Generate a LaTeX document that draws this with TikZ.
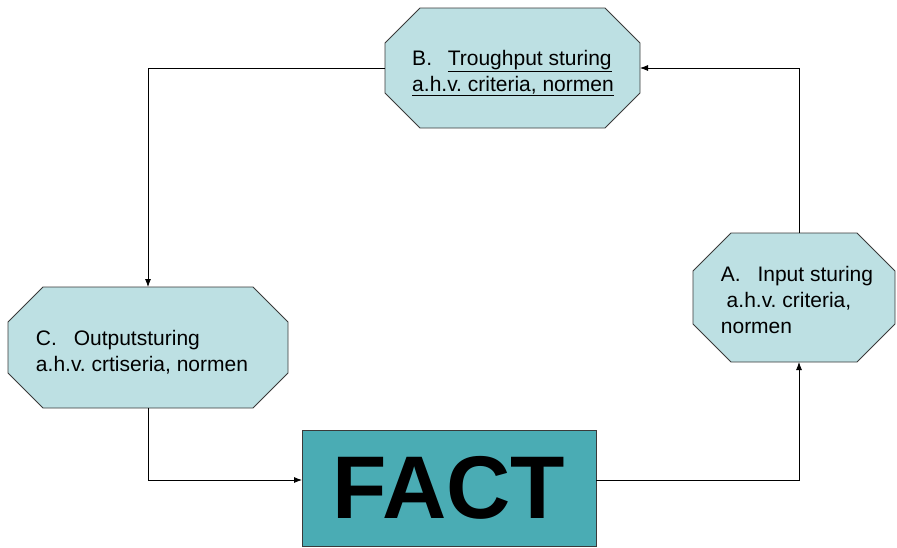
\documentclass[tikz,border=0pt]{standalone}
\usepackage{fontspec}
\setmainfont{Liberation Sans}
\frenchspacing
\usetikzlibrary{arrows.meta}
\definecolor{paleteal}{HTML}{BDE0E3}
\definecolor{deepteal}{HTML}{4AACB4}
\definecolor{edgegray}{HTML}{3A3A3A}
\tikzset{
  octo/.style={rectangle, draw=none, inner sep=0pt, outer sep=0pt},
  octoline/.style={draw=edgegray, line width=0.8pt, fill=paleteal, line join=miter},
  octotext/.style={align=left, inner sep=0pt, font=\fontsize{21}{26}\selectfont},
  factbox/.style={rectangle, draw=edgegray, line width=0.9pt, fill=deepteal,
    minimum width=294pt, minimum height=116pt, inner sep=0pt, outer sep=0pt,
    font=\fontsize{89}{90}\selectfont\bfseries},
  flow/.style={draw=black, line width=0.8pt, -{Latex[length=8pt,width=6pt]}}
}
% octagonal frame around a named rectangle node, corners cut by #2
\newcommand\octframe[2]{%
  \draw[octoline] ([xshift=#2]#1.north west) -- ([xshift=-#2]#1.north east)
    -- ([yshift=-#2]#1.north east) -- ([yshift=#2]#1.south east)
    -- ([xshift=-#2]#1.south east) -- ([xshift=#2]#1.south west)
    -- ([yshift=#2]#1.south west) -- ([yshift=-#2]#1.north west) -- cycle;}
\begin{document}
\begin{tikzpicture}[x=1pt,y=-1pt]
\useasboundingbox (0,0) rectangle (897,547);
% frames
\node[octo, minimum width=255pt, minimum height=120pt] (B) at (512.5,68) {};
\node[octo, minimum width=202pt, minimum height=129pt] (A) at (794,297.5) {};
\node[octo, minimum width=280pt, minimum height=121pt] (C) at (148,347.5) {};
\octframe{B}{35pt}
\octframe{A}{38pt}
\octframe{C}{35pt}
% labels
\node[octotext] (Bt) at (513,73)
  {B.\hspace{0.75em}\underline{Troughput sturing}\\\underline{a.h.v. criteria, normen}};
\node[octotext] (At) at (797,300)
  {A.\hspace{0.8em}Input sturing\\\ a.h.v. criteria,\\normen};
\node[octotext] (Ct) at (142,352)
  {C.\hspace{0.8em}Outputsturing\\a.h.v. crtiseria, normen};
\node[factbox] (F) at (449,488) {FACT};
% connectors
\draw[flow] (B.west) -| (C.north);
\draw[flow] (C.south) |- ([yshift=8pt]F.west);
\draw[flow] ([yshift=8pt]F.east) -| ([xshift=5pt]A.south);
\draw[flow] ([xshift=5pt]A.north) |- (B.east);
\end{tikzpicture}
\end{document}
